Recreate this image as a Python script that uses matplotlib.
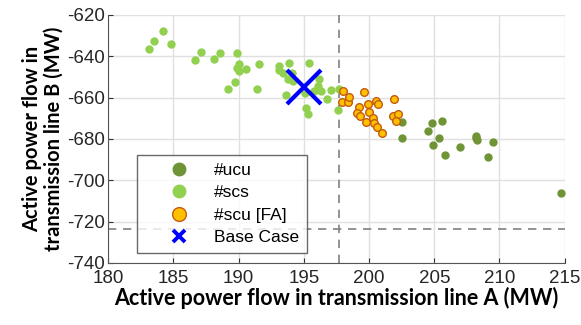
import matplotlib.pyplot as plt
import numpy as np

plt.rcParams['axes.unicode_minus'] = False
plt.rcParams['font.family'] = ['Liberation Sans', 'DejaVu Sans']

# #ucu points (dark green)
ucu_x = [202.5, 202.5, 204.5, 204.8, 205.6, 205.4, 204.9, 205.8, 207.0, 208.2, 208.3, 208.2, 209.5, 209.1, 214.7]
ucu_y = [-671.6, -679.4, -676.3, -672.1, -671.1, -679.4, -682.7, -687.6, -683.7, -678.4, -680.5, -679.4, -681.3, -688.5, -706.0]

# #scs points (light green)
scs_x = [183.1, 183.5, 184.2, 184.8, 186.7, 187.1, 188.1, 188.6, 189.9, 190.0, 189.9, 190.0,
         190.6, 191.6, 189.7, 189.2, 191.4, 193.1, 193.1, 193.9, 195.4, 193.4, 194.1, 193.8,
         194.2, 196.2, 196.1, 196.3, 195.8, 195.1, 193.6, 197.1, 197.7, 196.8, 195.2, 195.3, 197.6]
scs_y = [-636.3, -632.4, -627.6, -633.9, -641.6, -637.8, -641.1, -638.2, -638.2, -643.9, -645.8, -646.9,
         -646.0, -643.5, -652.3, -655.6, -655.6, -644.5, -646.5, -643.1, -643.1, -647.9, -647.9, -650.8,
         -651.8, -650.8, -654.2, -656.8, -656.6, -657.9, -658.6, -656.1, -655.6, -660.5, -665.1, -667.7, -666.0]

# #scu [FA] points (orange)
scu_x = [198.0, 197.9, 198.4, 198.5, 199.6, 199.2, 199.1, 199.3, 199.9, 200.0, 200.5, 200.7,
         200.3, 199.8, 200.4, 200.6, 201.0, 201.9, 201.8, 202.2, 202.1]
scu_y = [-656.6, -662.3, -662.3, -659.5, -657.4, -664.7, -667.6, -668.7, -663.2, -666.8, -661.5, -662.9,
         -669.7, -671.6, -672.4, -674.0, -677.2, -660.5, -668.7, -667.7, -671.1]

base_x, base_y = 195.0, -655.0
limit_a = 197.7
limit_b = -723.5

fig = plt.figure(figsize=(5.81, 3.25), dpi=100)
ax = fig.add_axes([0.186, 0.191, 0.786, 0.763])

ax.grid(True, color='#e0e0e0', linewidth=1)
ax.set_axisbelow(True)

ax.axvline(limit_a, color='#808080', linestyle=(0, (5, 4)), linewidth=1.2, zorder=1)
ax.axhline(limit_b, color='#808080', linestyle=(0, (5, 4)), linewidth=1.2, zorder=1)

ax.plot(ucu_x, ucu_y, 'o', color='#6f9436', markersize=5, label='#ucu', zorder=3)
ax.plot(scs_x, scs_y, 'o', color='#92d050', markersize=5, label='#scs', zorder=3)
ax.plot(scu_x, scu_y, 'o', markerfacecolor='#ffc000', markeredgecolor='#c55a11',
        markeredgewidth=1, markersize=5.5, label='#scu [FA]', zorder=4)
ax.plot([base_x], [base_y], 'x', color='#0000ff', markersize=24, markeredgewidth=3,
        label='Base Case', zorder=5)

ax.set_xlim(180, 215)
ax.set_ylim(-740, -620)
ax.set_xticks(np.arange(180, 216, 5))
ax.set_yticks(np.arange(-740, -619, 20))
ax.tick_params(direction='in', labelsize=13.5, colors='#333333', labelcolor='#262626')
ax.tick_params(axis='y', pad=2)
ax.tick_params(axis='x', pad=5)

for s in ['top', 'right']:
    ax.spines[s].set_visible(False)
for s in ['left', 'bottom']:
    ax.spines[s].set_color('#555555')

ax.set_xlabel('Active power flow in transmission line A (MW)', fontsize=15.5,
              fontweight='bold', family='Lato', labelpad=0)
ax.set_ylabel('Active power flow in\ntransmission line B (MW)', fontsize=14.5,
              fontweight='bold', family='Lato', labelpad=3, linespacing=1.1)

handles, labels = ax.get_legend_handles_labels()
handles[3] = plt.Line2D([], [], marker='x', color='#0000ff', linestyle='none',
                        markersize=7, markeredgewidth=2.5)
leg = ax.legend(handles, labels, loc='lower left', bbox_to_anchor=(0.063, 0.04),
                borderaxespad=0, fontsize=12.5, frameon=True, fancybox=False,
                edgecolor='#444444', handletextpad=0.1, borderpad=0.45,
                labelspacing=0.42, handlelength=3.9, markerscale=1.8)
leg.get_frame().set_linewidth(1)
leg.legend_handles[3].set_markersize(9)
leg.legend_handles[3].set_markeredgewidth(2.8)

fig.savefig('out.png', dpi=100)
